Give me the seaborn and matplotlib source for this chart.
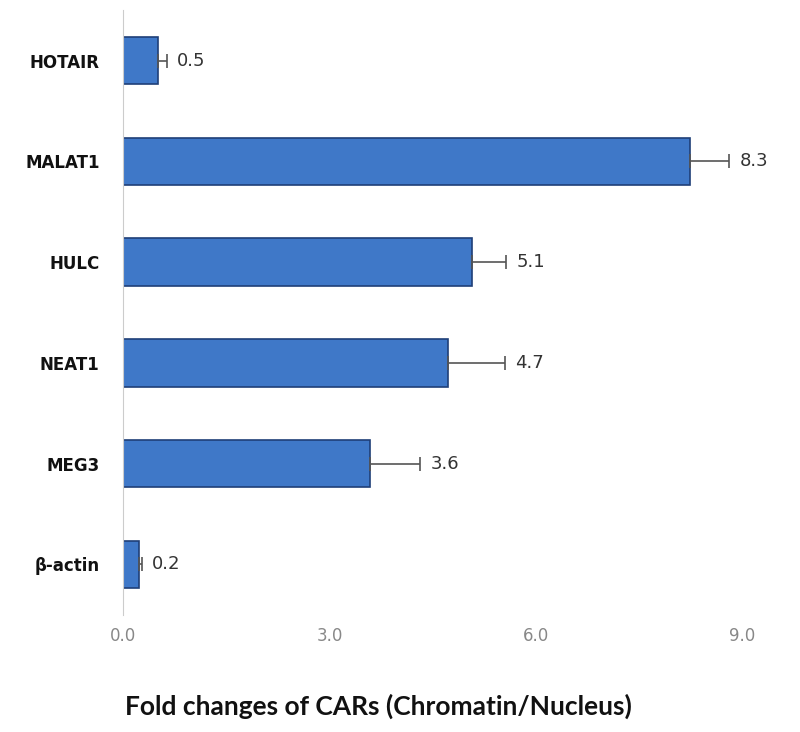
import matplotlib
matplotlib.use("Agg")
import matplotlib.pyplot as plt
import seaborn as sns
import pandas as pd

genes = ["HOTAIR", "MALAT1", "HULC", "NEAT1", "MEG3", "β-actin"]
values = [0.5, 8.24, 5.07, 4.72, 3.58, 0.23]
errors = [0.13, 0.57, 0.5, 0.83, 0.74, 0.04]
labels = ["0.5", "8.3", "5.1", "4.7", "3.6", "0.2"]
xticks = [0.0, 3.0, 6.0, 9.0]

sns.set_style("white")
df = pd.DataFrame({"gene": genes, "value": values})

fig = plt.figure(figsize=(8, 7.32), dpi=100)
ax = fig.add_axes([0.154, 0.160, 0.817, 0.826])
sns.barplot(data=df, y="gene", x="value", orient="h", order=genes,
            color="#3F78C8", saturation=1, width=0.47,
            edgecolor="#1F3F78", linewidth=1.2, ax=ax)
ax.errorbar(x=values, y=range(len(genes)), xerr=[[0]*len(errors), errors],
            fmt="none", ecolor="#555555", elinewidth=1.2, capsize=5, capthick=1.2)
for i, (v, e, t) in enumerate(zip(values, errors, labels)):
    ax.text(v + e + 0.15, i, t, va="center", ha="left", fontsize=13, color="#333333")

ax.set_xlim(0, 9.5)
ax.set_ylim(5.5, -0.5)
ax.set_xticks(xticks)
ax.set_xticklabels([f"{t:.1f}" for t in xticks], color="#888888", fontsize=12)
ax.tick_params(axis="x", length=0, pad=9)
ax.tick_params(axis="y", length=0, pad=17)
for lbl in ax.get_yticklabels():
    lbl.set_fontweight("bold")
    lbl.set_fontsize(12)
    lbl.set_color("#111111")
ax.set_ylabel("")
ax.set_xlabel("")
for s in ["top", "right", "bottom"]:
    ax.spines[s].set_visible(False)
ax.spines["left"].set_color("#CCCCCC")
fig.text(378 / 800, 1 - 706 / 732, "Fold changes of CARs (Chromatin/Nucleus)",
         ha="center", va="center", fontsize=19, fontweight="bold",
         family=["Lato", "DejaVu Sans"], color="#111111")
fig.savefig("out.png", dpi=100)
